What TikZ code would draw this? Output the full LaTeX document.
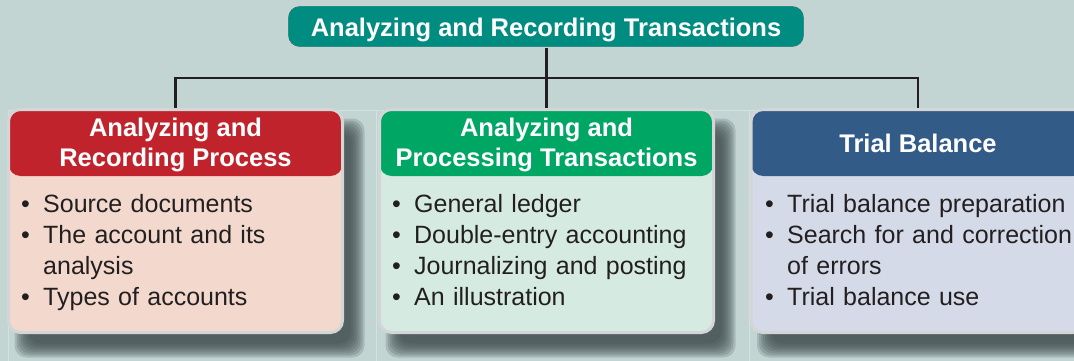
\documentclass[tikz,border=0pt]{standalone}
\usepackage{fontspec}
\setmainfont{Liberation Sans}
\definecolor{bg}{HTML}{C3D5D3}
\definecolor{panel}{HTML}{D3E2E0}
\definecolor{shd}{HTML}{3E4A4C}
\definecolor{brd}{HTML}{D4D5D7}
\definecolor{tbrd}{HTML}{D9CDD0}
\definecolor{lnc}{HTML}{231F20}
\definecolor{txt}{HTML}{231F20}
\definecolor{teal}{HTML}{008C81}
\definecolor{hred}{HTML}{C1232D}
\definecolor{hgreen}{HTML}{00A664}
\definecolor{hblue}{HTML}{335B88}
\definecolor{bpink}{HTML}{F3D9CD}
\definecolor{bmint}{HTML}{D5EBE1}
\definecolor{blav}{HTML}{D4DAE8}
\newcommand\blt{\makebox[22pt][l]{•}}
\newcommand\ind{\hspace*{22pt}}
\newcommand\softshadow[4]{%
  \foreach \d in {8,6,4,2,0,-2,-4,-6}{%
    \fill[shd, fill opacity=0.2, rounded corners=12pt] ({#1-\d},{#2-\d}) rectangle ({#3+\d},{#4+\d});
  }}
\begin{document}
\begin{tikzpicture}[x=1pt,y=-1pt,
  titlebox/.style={fill=teal, draw=tbrd, line width=1.2pt, rounded corners=12pt,
    minimum width=517pt, minimum height=42pt, inner sep=0pt, text height=21.5pt, text depth=0.5pt,
    text=white, font=\fontsize{25.5}{30}\selectfont\bfseries},
  hdrtext/.style={font=\fontsize{25.5}{30}\selectfont\bfseries, text=white, align=center, inner sep=0pt},
  bodytext/.style={font=\fontsize{25}{31}\selectfont, text=txt, text width=330pt, align=left,
    inner sep=0pt, anchor=base west},
  colbox/.style n args={2}{draw=brd, line width=3pt, fill=#2, rounded corners=12pt,
    minimum width=334pt, minimum height=223pt, inner sep=0pt,
    path picture={\fill[#1] ([yshift=5pt]path picture bounding box.north west) rectangle
      ([yshift=-66.5pt]path picture bounding box.north east);}},
  link/.style={draw=lnc, line width=2.8pt}]
\useasboundingbox (0,0) rectangle (1074,361);
\clip (0,0) rectangle (1074,361);
\fill[bg] (0,0) rectangle (1074,361);
% faint panel outlines
\draw[panel, line width=1pt] (8,361) -- (8,110.5) -- (376,110.5) -- (376,361);
\draw[panel, line width=1pt] (376,110.5) -- (749,110.5) -- (749,361);
\draw[panel, line width=1pt] (749,110.5) -- (1074,110.5);
% shadows
\softshadow{22.5}{126.5}{356.5}{349.5}
\softshadow{393.5}{126.5}{727.5}{349.5}
\softshadow{765}{126.5}{1099}{349.5}
% title
\node[titlebox] (title) at (546,26.5) {Analyzing and Recording Transactions};
% columns
\node[colbox={hred}{bpink}] (colA) at (175.5,221) {};
\node[colbox={hgreen}{bmint}] (colB) at (546.5,221) {};
\node[colbox={hblue}{blav}] (colC) at (918,221) {};
% connectors
\coordinate (bar) at (546.5,78);
\draw[link] (colA.north) |- (bar) -| (colC.north);
\draw[link] (title.south -| colB.north) -- (colB.north);
% headers
\node[hdrtext] (hA) at (175.5,145.4) {Analyzing and\\Recording Process};
\node[hdrtext] (hB) at (546.5,145.4) {Analyzing and\\Processing Transactions};
\node[hdrtext] (hC) at (918,143.7) {Trial Balance};
% bodies
\node[bodytext] (bA) at (21,212) {\blt Source documents\\\blt The account and its\\\ind analysis\\\blt Types of accounts};
\node[bodytext] (bB) at (392,212) {\blt General ledger\\\blt Double-entry accounting\\\blt Journalizing and posting\\\blt An illustration};
\node[bodytext] (bC) at (765,212) {\blt Trial balance preparation\\\blt Search for and correction\\\ind of errors\\\blt Trial balance use};
\end{tikzpicture}
\end{document}
